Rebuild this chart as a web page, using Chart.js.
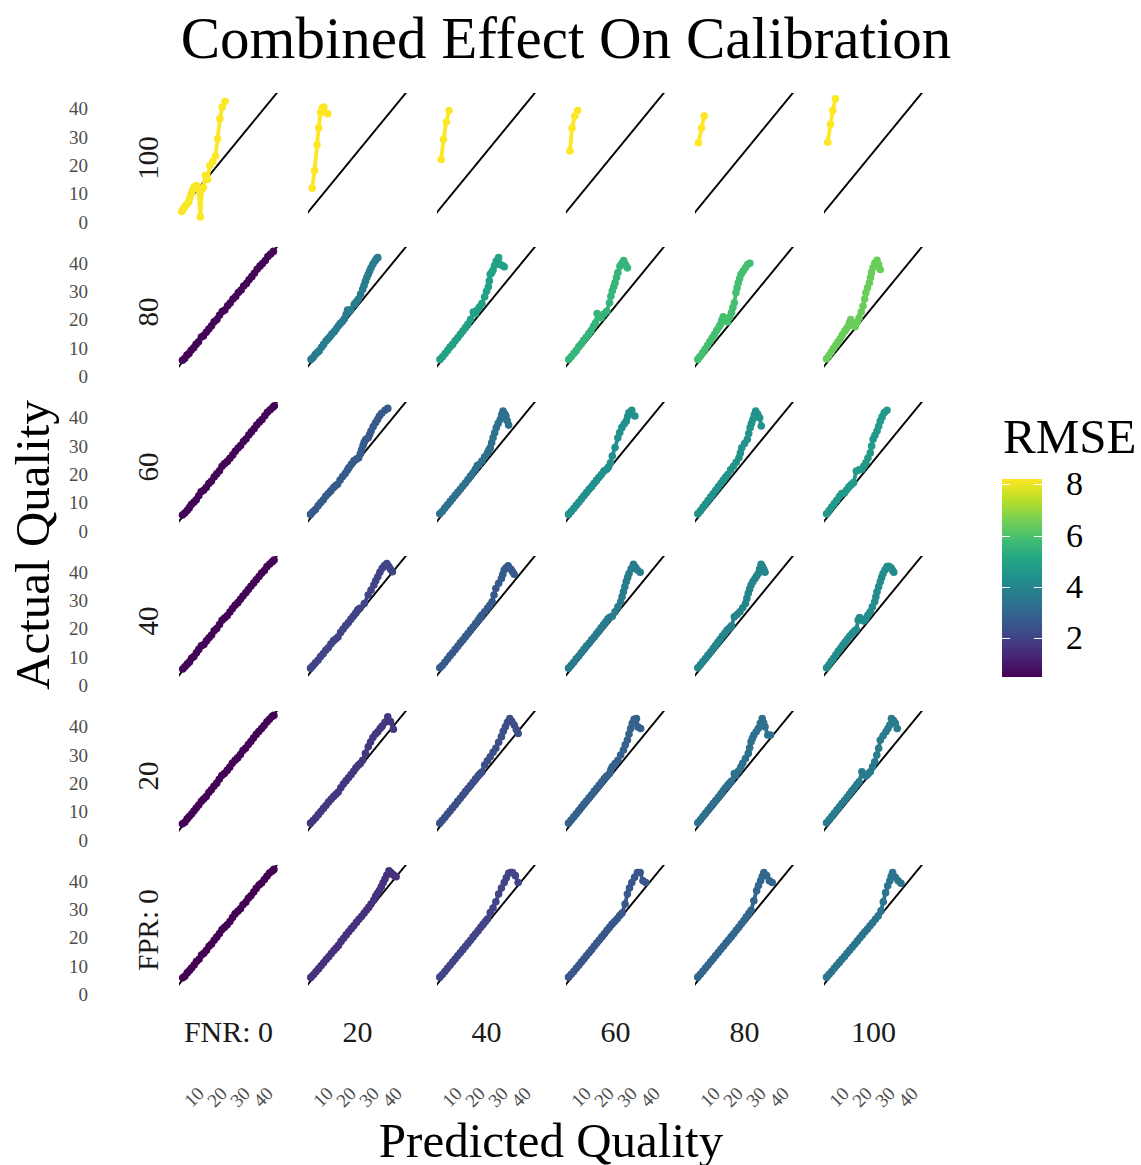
<!DOCTYPE html>
<html>
<head>
<meta charset="utf-8">
<title>Combined Effect On Calibration</title>
<script src="https://cdn.jsdelivr.net/npm/chart.js@4.4.0/dist/chart.umd.min.js"></script>
<style>
  body { margin: 0; background: #fff; }
  #plot { position: relative; width: 1141px; height: 1165px; overflow: hidden; font-family: "Liberation Serif", "DejaVu Serif", serif; }
  #plot canvas { position: absolute; }
  .txt { position: absolute; white-space: nowrap; line-height: 1; }
</style>
</head>
<body>
<div id="plot"></div>
<script>
// facet levels: rows are FPR (top to bottom), columns are FNR
const fprLevels = [100, 80, 60, 40, 20, 0];
const fnrLevels = [0, 20, 40, 60, 80, 100];
const yTicks = [0, 10, 20, 30, 40];
const xTicks = [10, 20, 30, 40];
const legendTicks = [2, 4, 6, 8];
const identityLine = [[0, 0], [50, 50]];

// RMSE per panel, one array per FPR row, ordered by FNR
const rmseFpr100 = [8.16, 8.2, 8.18, 8.19, 8.2, 8.2];
const rmseFpr80 = [0.58, 3.66, 4.89, 5.54, 5.89, 6.43];
const rmseFpr60 = [0.58, 2.66, 3.35, 4.35, 4.43, 4.66];
const rmseFpr40 = [0.57, 2.04, 2.66, 3.66, 3.97, 4.2];
const rmseFpr20 = [0.54, 1.73, 2.35, 2.89, 3.35, 3.66];
const rmseFpr0 = [0.5, 1.58, 2.04, 2.58, 3.04, 3.5];

// calibration curves: [predicted, actual]
const fpr100_fnr0 = [[4.7,3.8],[5.3,4.5],[5.9,5.3],[6.8,6.2],[7.6,7.1],[8.2,8.5],[8.8,10.0],[9.4,11.3],[10.0,12.4],[11.0,12.9],[11.9,11.8],[12.7,1.8],[13.4,11.5],[14.0,12.3],[14.9,16.5],[15.8,15.1],[16.8,20.0],[18.0,21.4],[19.2,23.3],[20.1,29.4],[21.1,36.5],[22.1,40.6],[23.3,42.6]];
const fpr100_fnr20 = [[5.3,12.0],[6.3,18.2],[7.4,27.3],[8.1,33.3],[8.9,38.6],[9.6,40.2],[10.3,40.6],[12.0,38.2]];
const fpr100_fnr40 = [[5.3,22.1],[6.3,29.2],[7.5,35.3],[8.7,39.4]];
const fpr100_fnr60 = [[5.2,25.1],[6.1,33.2],[7.3,37.4],[8.5,39.4]];
const fpr100_fnr80 = [[5.0,28.0],[6.3,33.2],[7.5,37.4]];
const fpr100_fnr100 = [[5.1,28.2],[6.3,34.5],[7.3,39.4],[8.4,43.5]];

const fpr80_fnr0 = [[5.0,5.6],[5.9,6.2],[6.9,7.4],[7.8,8.0],[8.7,9.1],[9.8,10.0],[10.8,11.2],[11.9,12.1],[13.1,13.8],[14.0,14.2],[15.2,15.5],[16.3,16.6],[17.5,17.8],[18.6,19.2],[19.8,20.0],[20.9,21.5],[22.1,22.8],[23.2,23.3],[24.4,24.8],[25.5,25.8],[26.7,27.2],[27.9,28.1],[29.0,29.5],[30.2,30.4],[31.3,31.8],[32.5,32.7],[33.6,34.0],[34.8,35.1],[35.9,36.3],[37.1,37.7],[38.3,38.8],[39.4,39.7],[40.6,40.8],[41.7,42.2],[42.9,43.1],[44.1,44.0]];
const fpr80_fnr20 = [[4.8,5.9],[5.7,6.6],[6.6,7.6],[7.5,8.3],[8.3,8.9],[9.3,10.2],[10.2,11.2],[11.2,12.4],[12.1,13.2],[13.0,14.0],[13.8,14.9],[14.8,15.7],[15.7,16.7],[16.6,17.8],[17.4,18.6],[18.3,19.3],[19.1,20.2],[19.9,21.8],[20.5,23.3],[21.3,22.8],[22.0,23.5],[23.4,25.3],[24.2,26.1],[25.1,27.1],[26.1,28.9],[27.0,30.6],[27.6,32.0],[28.2,33.5],[28.8,34.8],[29.4,35.9],[30.0,37.1],[30.6,38.2],[31.4,39.5],[32.3,40.6],[33.0,41.5],[33.5,41.8]];
const fpr80_fnr40 = [[4.8,5.9],[5.9,6.8],[7.0,8.0],[8.1,9.1],[9.1,10.3],[10.2,11.2],[11.3,12.5],[12.4,13.5],[13.5,14.8],[14.6,15.9],[15.7,17.1],[16.8,18.4],[17.9,20.0],[19.1,22.6],[20.0,22.0],[20.8,23.3],[21.8,24.4],[22.8,25.6],[24.0,28.0],[24.8,29.9],[25.6,31.5],[26.0,33.6],[26.4,35.9],[27.0,36.5],[27.6,37.4],[28.3,39.1],[29.0,40.6],[30.0,41.8],[30.7,39.4],[31.6,39.0],[32.4,38.6]];
const fpr80_fnr60 = [[4.7,5.9],[5.8,6.9],[6.9,8.1],[7.9,9.0],[9.0,10.4],[10.1,11.4],[11.1,12.6],[12.2,13.7],[13.3,15.0],[14.3,16.1],[15.3,17.6],[16.2,18.8],[16.9,22.1],[17.7,21.0],[18.6,20.6],[19.8,21.9],[21.0,22.9],[22.2,25.9],[22.8,28.2],[23.4,30.0],[24.0,31.5],[24.6,32.9],[25.2,34.8],[25.8,36.5],[26.7,38.8],[27.5,39.7],[28.3,40.8],[29.1,39.4],[29.9,38.2]];
const fpr80_fnr80 = [[4.7,5.9],[5.7,7.0],[6.8,8.2],[7.8,9.5],[8.9,10.9],[9.9,12.2],[10.9,13.5],[11.9,14.8],[12.9,16.2],[13.8,17.3],[14.4,18.2],[15.0,19.6],[15.6,20.9],[16.5,19.6],[17.5,19.1],[18.4,20.8],[19.2,22.4],[19.8,24.2],[20.4,25.9],[21.1,29.4],[21.6,31.2],[22.1,32.9],[22.7,34.4],[23.3,35.9],[24.2,37.1],[25.2,38.2],[26.1,39.4],[27.1,39.8]];
const fpr80_fnr100 = [[4.6,6.1],[5.6,7.3],[6.6,8.5],[7.6,9.8],[8.6,11.0],[9.5,12.1],[10.5,13.3],[11.4,14.6],[12.4,15.8],[13.1,16.6],[13.8,17.4],[14.4,18.8],[15.0,20.0],[16.0,18.4],[16.9,17.4],[17.8,19.1],[18.6,20.6],[19.5,22.6],[20.3,24.7],[21.0,27.2],[21.5,29.4],[22.2,31.2],[23.0,32.9],[23.5,34.8],[23.9,36.5],[24.6,38.2],[25.3,39.8],[26.3,40.9],[27.0,39.4],[27.7,37.6]];

const fpr60_fnr0 = [[5.0,5.7],[6.0,6.4],[7.0,7.3],[7.9,8.2],[8.8,9.4],[9.9,10.2],[10.9,11.1],[12.0,12.5],[13.0,13.9],[14.1,14.4],[15.2,15.4],[16.3,16.8],[17.4,17.6],[18.6,19.1],[19.7,20.2],[20.9,21.3],[22.0,22.9],[23.1,23.8],[24.3,24.6],[25.4,25.7],[26.6,26.9],[27.7,28.2],[28.9,29.3],[30.0,30.2],[31.2,31.6],[32.3,32.5],[33.5,33.9],[34.6,35.0],[35.8,36.1],[36.9,37.4],[38.1,38.5],[39.2,39.4],[40.4,40.7],[41.5,41.9],[42.7,42.8],[43.9,43.7],[44.5,44.2]];
const fpr60_fnr20 = [[4.6,5.9],[5.6,6.8],[6.7,7.6],[7.8,8.9],[8.9,10.0],[10.0,11.0],[11.1,12.3],[12.2,13.3],[13.3,14.2],[14.4,15.3],[15.3,16.0],[16.2,16.5],[17.3,18.0],[18.4,19.3],[19.5,20.3],[20.4,21.5],[21.0,22.3],[22.1,23.6],[23.2,24.8],[24.3,25.4],[25.3,25.9],[26.0,27.3],[26.6,28.8],[27.2,30.3],[27.7,31.4],[28.4,32.4],[29.4,32.9],[30.0,34.1],[30.6,35.3],[31.5,36.8],[32.5,38.2],[33.4,39.4],[34.2,40.6],[35.2,41.6],[36.6,42.6],[37.8,43.3]];
const fpr60_fnr40 = [[4.7,6.1],[5.8,7.0],[6.9,8.2],[8.0,9.3],[9.1,10.4],[10.2,11.5],[11.3,12.6],[12.4,13.7],[13.5,14.8],[14.6,15.9],[15.7,17.0],[16.8,18.2],[17.9,19.4],[19.0,20.6],[20.0,21.8],[20.8,23.1],[21.6,23.5],[22.8,24.7],[24.0,26.2],[25.2,27.6],[25.8,28.6],[26.4,29.4],[27.0,31.2],[27.6,32.9],[28.3,34.7],[29.0,36.5],[29.8,38.0],[30.7,39.4],[31.3,41.0],[31.9,42.4],[32.6,41.4],[33.1,40.6],[33.7,38.9],[34.3,37.4]];
const fpr60_fnr60 = [[4.6,5.9],[5.7,6.9],[6.8,8.0],[7.9,9.1],[9.0,10.2],[10.1,11.3],[11.2,12.5],[12.3,13.6],[13.4,14.8],[14.5,15.7],[15.5,16.8],[16.6,17.9],[17.6,18.9],[18.7,20.0],[19.8,21.2],[21.0,21.8],[21.8,22.6],[22.6,24.1],[23.4,26.5],[24.6,29.5],[25.8,32.9],[26.6,34.8],[27.5,36.5],[28.5,37.8],[29.4,38.8],[30.0,40.4],[30.6,41.8],[31.8,42.6],[33.1,40.6]];
const fpr60_fnr80 = [[4.7,6.1],[5.8,7.2],[6.9,8.4],[8.0,9.6],[9.1,10.8],[10.2,12.0],[11.3,13.2],[12.4,14.4],[13.5,15.6],[14.6,16.8],[15.6,17.9],[16.6,19.0],[17.6,20.0],[18.8,21.6],[20.0,22.9],[21.2,24.3],[22.4,25.9],[23.0,27.6],[23.6,29.4],[24.8,30.9],[26.0,32.4],[26.6,34.4],[27.2,36.5],[27.8,38.0],[28.4,39.4],[29.0,41.0],[29.6,42.4],[30.5,41.2],[31.3,40.0],[32.0,37.1]];
const fpr60_fnr100 = [[4.6,6.1],[5.7,7.3],[6.8,8.5],[7.9,9.7],[9.0,10.9],[10.1,12.2],[11.1,13.3],[12.2,13.4],[13.2,14.5],[14.2,15.6],[15.2,16.4],[16.2,17.1],[17.4,21.2],[18.6,21.6],[19.8,21.8],[20.6,22.9],[21.5,24.1],[22.4,25.8],[23.4,27.6],[24.0,30.0],[24.6,32.4],[25.4,33.8],[26.3,35.3],[27.0,37.0],[27.7,38.8],[28.5,40.3],[29.4,41.8],[30.6,42.6]];

const fpr40_fnr0 = [[5.1,5.7],[6.0,6.5],[7.0,7.4],[8.0,8.2],[8.9,9.5],[9.9,10.1],[11.0,11.4],[12.0,12.6],[13.1,13.9],[14.2,14.3],[15.3,15.6],[16.4,16.7],[17.5,17.7],[18.6,19.2],[19.7,20.0],[20.9,21.4],[22.0,22.9],[23.1,23.7],[24.2,24.5],[25.4,25.8],[26.5,27.0],[27.6,28.2],[28.8,29.1],[29.9,30.3],[31.0,31.4],[32.2,32.6],[33.3,33.7],[34.4,34.9],[35.6,36.0],[36.7,37.2],[37.9,38.3],[39.0,39.5],[40.2,40.4],[41.3,41.8],[42.5,42.7],[43.6,43.5],[44.4,44.1]];
const fpr40_fnr20 = [[4.6,6.0],[5.6,6.8],[6.7,7.9],[7.8,8.8],[8.9,10.1],[10.0,11.1],[11.1,12.3],[12.2,13.2],[13.3,14.5],[14.4,15.6],[15.4,16.3],[16.4,17.0],[17.5,18.6],[18.6,19.8],[19.7,21.0],[20.8,22.0],[21.9,23.2],[22.9,24.3],[24.0,25.4],[24.9,26.6],[25.8,27.1],[27.7,28.8],[29.4,31.8],[30.6,33.5],[31.8,35.3],[32.6,36.8],[33.5,38.2],[34.4,39.8],[35.4,41.2],[36.4,42.2],[37.4,42.9],[38.3,41.8],[39.0,40.9],[39.8,40.0]];
const fpr40_fnr40 = [[4.7,6.1],[5.8,6.9],[6.9,8.1],[8.0,9.2],[9.1,10.4],[10.2,11.4],[11.3,12.6],[12.4,13.7],[13.5,14.9],[14.6,15.9],[15.7,17.1],[16.8,18.2],[17.9,19.4],[19.0,20.5],[20.1,21.7],[21.2,22.9],[22.0,23.8],[22.8,24.7],[24.0,25.9],[25.2,27.1],[26.2,28.2],[27.2,29.4],[28.0,31.8],[28.8,34.1],[30.0,35.9],[31.2,37.6],[31.8,39.1],[32.4,40.6],[33.2,41.4],[34.1,42.1],[35.3,40.9],[36.0,40.0],[36.7,39.1]];
const fpr40_fnr60 = [[4.6,6.0],[5.7,7.0],[6.8,8.1],[7.9,9.3],[9.0,10.3],[10.1,11.5],[11.2,12.6],[12.3,13.8],[13.4,14.8],[14.5,16.0],[15.6,17.0],[16.6,18.1],[17.6,19.1],[18.6,20.2],[19.6,21.3],[20.6,22.3],[21.5,23.4],[22.4,23.9],[23.4,24.3],[24.6,25.9],[25.8,27.6],[27.0,29.4],[27.6,31.2],[28.2,32.9],[28.8,34.7],[29.4,36.5],[30.0,38.0],[30.6,39.4],[31.5,41.0],[32.5,42.6],[33.4,41.6],[34.2,40.6],[35.4,39.8]];
const fpr40_fnr80 = [[4.7,6.1],[5.8,7.2],[6.9,8.3],[8.0,9.4],[9.1,10.6],[10.2,11.7],[11.3,12.9],[12.3,14.0],[13.3,15.1],[14.3,16.2],[15.3,17.3],[16.3,18.3],[17.3,19.4],[18.3,20.1],[19.2,20.9],[20.4,24.1],[21.6,24.9],[22.8,25.9],[24.0,27.3],[25.2,28.8],[25.8,30.6],[26.4,32.4],[27.0,33.9],[27.6,35.3],[28.4,36.5],[29.3,37.6],[30.0,38.5],[30.7,39.4],[31.3,41.0],[31.9,42.6],[32.5,41.8],[33.1,40.9],[33.6,39.8]];
const fpr40_fnr100 = [[4.6,6.1],[5.6,7.2],[6.6,8.4],[7.6,9.5],[8.6,10.7],[9.6,11.9],[10.6,13.0],[11.6,14.1],[12.6,15.2],[13.6,16.3],[14.6,17.3],[15.6,18.2],[16.5,19.0],[17.4,19.6],[18.2,23.0],[18.8,23.8],[19.6,23.0],[20.6,22.6],[21.5,23.5],[22.4,24.7],[23.4,25.9],[24.3,27.6],[25.3,29.4],[25.8,31.2],[26.3,32.9],[27.0,34.7],[27.7,36.5],[28.3,38.0],[28.9,39.4],[29.7,40.6],[30.6,41.8],[31.4,41.9],[32.3,41.4],[32.9,40.6],[33.5,39.8]];

const fpr20_fnr0 = [[5.0,5.8],[6.0,6.3],[7.0,7.5],[7.9,8.3],[8.9,9.2],[9.9,10.3],[10.9,11.3],[12.0,12.4],[13.1,13.7],[14.1,14.5],[15.2,15.4],[16.3,16.8],[17.4,17.8],[18.5,19.0],[19.7,20.1],[20.8,21.5],[21.9,22.8],[23.0,23.5],[24.2,24.6],[25.3,25.7],[26.4,27.1],[27.6,28.2],[28.7,29.0],[29.9,30.2],[31.0,31.6],[32.1,32.4],[33.3,33.7],[34.4,34.8],[35.5,36.0],[36.7,37.3],[37.8,38.3],[39.0,39.4],[40.1,40.4],[41.3,41.7],[42.4,42.6],[43.5,43.6],[44.3,44.0]];
const fpr20_fnr20 = [[4.6,6.0],[5.7,6.9],[6.8,7.9],[7.9,9.0],[9.0,10.1],[10.1,11.2],[11.2,12.2],[12.3,13.4],[13.4,14.4],[14.5,15.4],[15.5,16.2],[16.5,17.0],[17.6,18.5],[18.7,19.8],[19.8,20.9],[20.9,22.0],[22.0,23.1],[23.1,24.3],[24.1,25.5],[25.1,26.4],[26.0,27.0],[27.0,28.2],[28.2,30.6],[29.4,32.9],[30.4,34.6],[31.4,36.2],[32.5,37.4],[33.5,38.2],[34.5,39.4],[35.4,40.2],[36.6,41.6],[37.8,43.5],[39.0,41.8],[40.2,39.1]];
const fpr20_fnr40 = [[4.7,6.0],[5.8,7.0],[6.9,8.1],[8.0,9.2],[9.1,10.3],[10.2,11.4],[11.3,12.5],[12.4,13.7],[13.5,14.8],[14.6,15.9],[15.7,17.1],[16.8,18.2],[17.9,19.3],[19.0,20.4],[20.1,21.6],[21.2,22.7],[22.0,23.4],[22.8,24.0],[24.0,26.5],[25.2,28.0],[26.4,29.4],[27.6,31.0],[28.8,32.4],[30.0,34.5],[31.2,36.5],[32.0,38.4],[32.9,40.0],[33.8,41.6],[34.8,42.9],[35.7,41.8],[36.7,40.6],[37.6,39.0],[38.4,37.6]];
const fpr20_fnr60 = [[4.6,6.0],[5.7,7.1],[6.8,8.2],[7.9,9.3],[9.0,10.4],[10.1,11.6],[11.2,12.7],[12.3,13.8],[13.4,14.9],[14.5,16.0],[15.6,17.2],[16.7,18.3],[17.8,19.4],[18.9,20.6],[20.0,21.7],[21.0,22.6],[22.2,23.5],[22.8,24.8],[23.4,25.9],[24.6,27.0],[25.8,28.2],[27.0,30.0],[28.2,31.8],[29.0,33.6],[29.9,35.3],[30.6,37.4],[31.3,39.4],[32.0,41.2],[32.8,42.6],[33.8,42.9],[34.5,39.9],[35.6,39.4]];
const fpr20_fnr80 = [[4.7,6.1],[5.8,7.2],[6.9,8.3],[8.0,9.5],[9.1,10.6],[10.2,11.8],[11.3,12.9],[12.4,14.0],[13.5,15.1],[14.6,16.3],[15.6,17.4],[16.6,18.5],[17.6,19.4],[18.4,20.1],[19.2,20.8],[20.4,23.5],[21.0,22.8],[22.2,24.4],[23.2,25.8],[24.0,27.1],[25.2,28.8],[26.4,30.6],[27.0,32.6],[27.6,34.7],[28.2,35.9],[28.8,37.1],[29.8,38.2],[30.7,39.4],[31.6,41.2],[32.4,42.9],[33.0,41.4],[33.6,40.0],[34.8,37.1],[36.0,37.1]];
const fpr20_fnr100 = [[4.6,6.1],[5.7,7.2],[6.8,8.3],[7.9,9.5],[9.0,10.6],[10.1,11.8],[11.2,12.9],[12.3,14.0],[13.4,15.1],[14.5,16.3],[15.5,17.4],[16.6,18.5],[17.6,19.6],[18.6,20.6],[19.8,24.1],[20.8,23.0],[21.6,22.6],[22.5,23.4],[23.4,24.1],[24.4,25.9],[25.3,27.6],[26.2,30.0],[27.0,32.4],[27.7,35.3],[28.9,36.8],[30.1,38.2],[31.0,39.4],[31.8,40.6],[32.5,42.9],[33.4,42.2],[34.2,41.2],[35.0,39.4]];

const fpr0_fnr0 = [[5.1,5.8],[6.0,6.3],[7.0,7.5],[8.0,8.3],[8.9,9.2],[10.0,10.3],[11.0,11.5],[12.1,12.3],[13.2,13.8],[14.2,14.4],[15.3,15.5],[16.4,16.9],[17.5,17.7],[18.6,19.0],[19.7,20.1],[20.9,21.4],[22.0,22.8],[23.1,23.6],[24.2,24.5],[25.4,25.6],[26.5,27.0],[27.6,28.3],[28.8,29.2],[29.9,30.1],[31.0,31.5],[32.2,32.4],[33.3,33.8],[34.4,34.7],[35.6,36.0],[36.7,37.3],[37.9,38.5],[39.0,39.2],[40.2,40.4],[41.3,41.6],[42.4,42.7],[43.6,43.4],[44.3,44.0]];
const fpr0_fnr20 = [[4.7,5.9],[5.8,6.8],[6.9,7.9],[8.0,8.9],[9.1,10.0],[10.2,11.1],[11.3,12.2],[12.4,13.2],[13.5,14.3],[14.6,15.4],[15.6,16.3],[16.6,17.2],[17.7,18.6],[18.8,19.7],[19.9,20.9],[21.0,22.0],[22.1,23.1],[23.2,24.1],[24.3,25.3],[25.4,26.4],[26.5,27.4],[27.6,28.5],[28.6,29.6],[29.6,30.6],[30.6,31.8],[31.8,33.2],[32.6,34.6],[33.4,35.6],[34.2,36.5],[35.0,37.9],[35.8,39.3],[36.6,40.6],[37.4,42.0],[38.3,43.5],[39.0,43.0],[39.8,42.4],[40.6,41.8],[41.4,41.4]];
const fpr0_fnr40 = [[4.7,6.0],[5.8,6.9],[6.9,8.0],[8.0,9.1],[9.1,10.2],[10.2,11.3],[11.3,12.4],[12.4,13.5],[13.5,14.6],[14.6,15.7],[15.7,16.8],[16.8,17.9],[17.9,19.0],[19.0,20.2],[20.1,21.3],[21.2,22.4],[22.3,23.6],[23.3,24.6],[24.3,25.6],[25.2,26.5],[26.4,28.8],[27.6,30.4],[28.8,32.6],[30.0,35.3],[31.2,37.4],[32.4,39.4],[33.3,41.0],[34.3,42.6],[35.2,42.9],[36.0,42.9],[37.2,41.8],[38.4,39.4]];
const fpr0_fnr60 = [[4.6,6.0],[5.7,7.0],[6.8,8.0],[7.9,9.1],[9.0,10.2],[10.1,11.3],[11.2,12.4],[12.3,13.5],[13.4,14.6],[14.5,15.7],[15.6,16.9],[16.7,18.0],[17.8,19.1],[18.9,20.2],[20.0,21.3],[21.1,22.5],[22.2,23.6],[23.3,24.7],[24.4,25.6],[25.5,26.6],[26.6,27.7],[27.6,28.6],[28.9,31.8],[29.9,35.3],[30.8,37.4],[31.8,39.4],[33.0,41.2],[34.2,42.9],[35.4,42.9],[36.6,40.0],[37.8,39.4]];
const fpr0_fnr80 = [[4.7,6.0],[5.8,7.0],[6.9,8.1],[8.0,9.2],[9.1,10.3],[10.2,11.4],[11.3,12.5],[12.4,13.6],[13.5,14.7],[14.6,15.8],[15.7,16.9],[16.8,18.0],[17.9,19.1],[19.0,20.2],[20.1,21.3],[21.2,22.5],[22.3,23.6],[23.4,24.8],[24.5,26.0],[25.5,27.2],[26.6,28.4],[27.6,29.6],[28.8,32.9],[30.0,36.5],[30.8,38.3],[31.7,40.0],[32.4,41.5],[33.1,42.9],[34.3,41.8],[35.5,40.0],[36.7,39.4]];
const fpr0_fnr100 = [[4.6,6.0],[5.7,7.0],[6.8,8.0],[7.9,9.1],[9.0,10.2],[10.1,11.2],[11.2,12.3],[12.3,13.3],[13.4,14.4],[14.5,15.5],[15.6,16.5],[16.7,17.6],[17.8,18.7],[18.9,19.8],[20.0,20.9],[21.1,22.0],[22.2,23.0],[23.3,24.1],[24.4,25.2],[25.6,26.4],[26.8,27.6],[28.0,29.4],[29.0,32.6],[30.0,35.8],[30.9,38.2],[31.8,40.0],[32.4,41.6],[33.0,42.9],[34.2,41.2],[35.4,40.0],[36.6,39.1]];

const rmseRows = [rmseFpr100, rmseFpr80, rmseFpr60, rmseFpr40, rmseFpr20, rmseFpr0];
const curveRows = [
    [fpr100_fnr0, fpr100_fnr20, fpr100_fnr40, fpr100_fnr60, fpr100_fnr80, fpr100_fnr100],
    [fpr80_fnr0, fpr80_fnr20, fpr80_fnr40, fpr80_fnr60, fpr80_fnr80, fpr80_fnr100],
    [fpr60_fnr0, fpr60_fnr20, fpr60_fnr40, fpr60_fnr60, fpr60_fnr80, fpr60_fnr100],
    [fpr40_fnr0, fpr40_fnr20, fpr40_fnr40, fpr40_fnr60, fpr40_fnr80, fpr40_fnr100],
    [fpr20_fnr0, fpr20_fnr20, fpr20_fnr40, fpr20_fnr60, fpr20_fnr80, fpr20_fnr100],
    [fpr0_fnr0, fpr0_fnr20, fpr0_fnr40, fpr0_fnr60, fpr0_fnr80, fpr0_fnr100]
];

// layout
const panelLeft = 178.5, colStep = 129, panelW = 100;
const panelTop = 92.5, rowStep = 154.5, panelH = 130;
const pad = 8;
const xMin = 3.5, xMax = 46.5, yMin = -0.3, yMax = 45.55;

const viridis = ['#440154', '#482475', '#414487', '#355F8D', '#2A788E', '#21918C', '#22A884', '#44BF70', '#7AD151', '#BDDF26', '#FDE725'];
const allRmse = rmseRows.flat();
const rmseLo = Math.min(...allRmse);
const rmseHi = Math.max(...allRmse);

function hexToRgb(h) {
    return [1, 3, 5].map(i => parseInt(h.slice(i, i + 2), 16));
}

function viridisColor(v) {
    let t = (v - rmseLo) / (rmseHi - rmseLo);
    t = Math.max(0, Math.min(1, t)) * (viridis.length - 1);
    const i = Math.min(Math.floor(t), viridis.length - 2);
    const f = t - i;
    const a = hexToRgb(viridis[i]), b = hexToRgb(viridis[i + 1]);
    const c = a.map((ch, k) => Math.round(ch + (b[k] - ch) * f));
    return `rgb(${c[0]},${c[1]},${c[2]})`;
}

const plot = document.getElementById('plot');

function addText(str, x, y, size, opts = {}) {
    const el = document.createElement('div');
    el.className = 'txt';
    el.textContent = str;
    el.style.fontSize = size + 'px';
    el.style.left = x + 'px';
    el.style.top = y + 'px';
    el.style.color = opts.color || '#000';
    const shift = opts.shift || 'translate(-50%,-50%)';
    el.style.transform = shift + (opts.rotate ? ` rotate(${opts.rotate}deg)` : '');
    plot.appendChild(el);
    return el;
}

function addCanvas(left, top, w, h) {
    const cv = document.createElement('canvas');
    cv.width = w;
    cv.height = h;
    cv.style.width = w + 'px';
    cv.style.height = h + 'px';
    cv.style.left = left + 'px';
    cv.style.top = top + 'px';
    plot.appendChild(cv);
    return cv;
}

const toPoints = arr => arr.map(p => ({ x: p[0], y: p[1] }));

curveRows.forEach((row, r) => {
    row.forEach((curve, c) => {
        const left = panelLeft + c * colStep - pad;
        const top = panelTop + r * rowStep - pad;
        const cv = addCanvas(left, top, panelW + 2 * pad, panelH + 2 * pad);
        const col = viridisColor(rmseRows[r][c]);
        const chart = new Chart(cv, {
            type: 'scatter',
            data: {
                datasets: [{
                    data: toPoints(curve),
                    showLine: true,
                    borderColor: col,
                    backgroundColor: col,
                    borderWidth: 3.8,
                    borderJoinStyle: 'round',
                    borderCapStyle: 'round',
                    pointRadius: 3.8,
                    pointBorderWidth: 0,
                    clip: false
                }, {
                    data: toPoints(identityLine),
                    showLine: true,
                    borderColor: '#000',
                    borderWidth: 1.9,
                    pointRadius: 0,
                    clip: 0
                }]
            },
            options: {
                responsive: false,
                animation: false,
                events: [],
                layout: { padding: pad },
                scales: {
                    x: { type: 'linear', min: xMin, max: xMax, display: false },
                    y: { type: 'linear', min: yMin, max: yMax, display: false }
                },
                plugins: { legend: { display: false }, tooltip: { enabled: false } }
            }
        });

        if (c === 0) {
            yTicks.forEach(v => {
                addText(String(v), 88, top + chart.scales.y.getPixelForValue(v), 19,
                    { color: '#4d4d4d', shift: 'translate(-100%,-50%)' });
            });
            const lab = fprLevels[r] === 0 ? 'FPR: 0' : String(fprLevels[r]);
            addText(lab, 148, top + pad + panelH / 2, 29, { rotate: -90, color: '#1a1a1a' });
        }
        if (r === curveRows.length - 1) {
            xTicks.forEach(v => {
                addText(String(v), left + chart.scales.x.getPixelForValue(v), 1097, 19,
                    { color: '#4d4d4d', rotate: -45 });
            });
            const lab = fnrLevels[c] === 0 ? 'FNR: 0' : String(fnrLevels[c]);
            addText(lab, left + pad + panelW / 2, 1032, 30, { color: '#1a1a1a' });
        }
    });
});

// colour bar for the RMSE scale
const barTicks = {
    id: 'barTicks',
    afterDatasetsDraw(chart) {
        const { ctx, chartArea: a, scales: { y } } = chart;
        ctx.save();
        ctx.strokeStyle = '#fff';
        ctx.lineWidth = 1;
        legendTicks.forEach(v => {
            const py = Math.round(y.getPixelForValue(v)) + 0.5;
            ctx.beginPath();
            ctx.moveTo(a.left, py);
            ctx.lineTo(a.left + 8, py);
            ctx.moveTo(a.right - 8, py);
            ctx.lineTo(a.right, py);
            ctx.stroke();
        });
        ctx.restore();
    }
};

const barLeft = 1002, barTop = 479;
const barCanvas = addCanvas(barLeft, barTop, 40, 198);
const barChart = new Chart(barCanvas, {
    type: 'bar',
    data: {
        labels: ['RMSE'],
        datasets: [{
            data: [[rmseLo, rmseHi]],
            backgroundColor: ctx => {
                const a = ctx.chart.chartArea;
                if (!a) return viridis[0];
                const g = ctx.chart.ctx.createLinearGradient(0, a.bottom, 0, a.top);
                viridis.forEach((c, i) => g.addColorStop(i / (viridis.length - 1), c));
                return g;
            },
            borderWidth: 0,
            barPercentage: 1,
            categoryPercentage: 1,
            inflateAmount: 0
        }]
    },
    options: {
        responsive: false,
        animation: false,
        events: [],
        layout: { padding: 0 },
        scales: {
            x: { display: false },
            y: { min: rmseLo, max: rmseHi, display: false }
        },
        plugins: { legend: { display: false }, tooltip: { enabled: false } }
    },
    plugins: [barTicks]
});

legendTicks.forEach(v => {
    addText(String(v), 1066, barTop + barChart.scales.y.getPixelForValue(v), 34,
        { shift: 'translate(0,-50%)' });
});
addText('RMSE', 1003, 436, 49, { shift: 'translate(0,-50%)' });

// titles
addText('Combined Effect On Calibration', 566, 38, 59);
addText('Actual Quality', 32, 545, 49, { rotate: -90 });
addText('Predicted Quality', 551, 1140, 49);
</script>
</body>
</html>
